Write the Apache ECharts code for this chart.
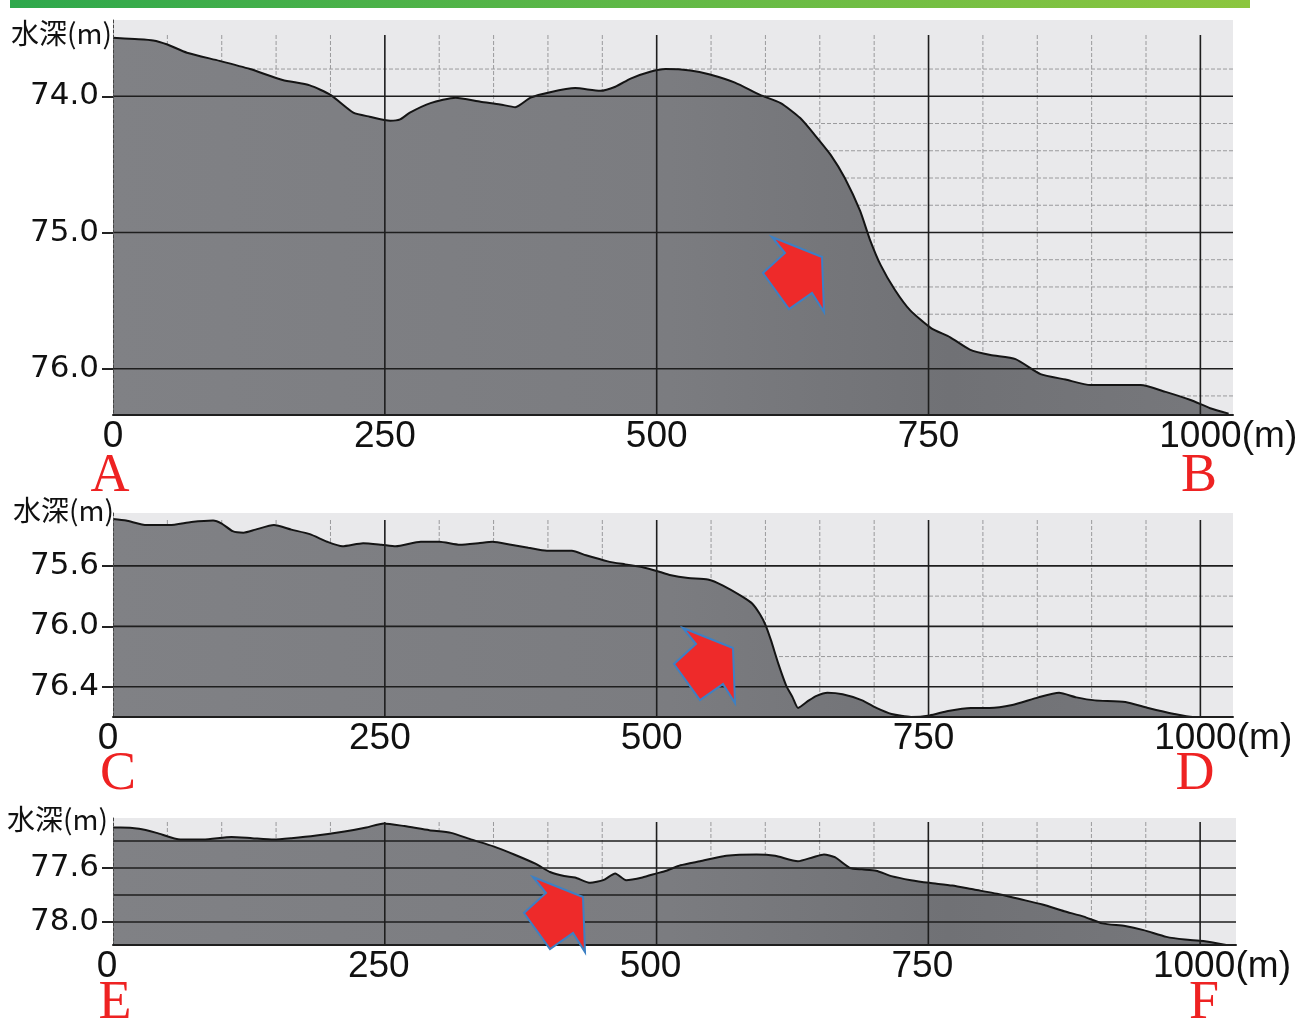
<!DOCTYPE html>
<html>
<head>
<meta charset="utf-8">
<script src="https://cdn.jsdelivr.net/npm/echarts@6/dist/echarts.min.js"></script>
<style>
html,body{margin:0;padding:0;background:#fff;}
#c{width:1302px;height:1019px;}
</style>
</head>
<body>
<div id="c"></div>
<script>
// ---------- data (distance in m, depth in m) ----------
const distAB  = [0,20,37,50,68,98,126,156,181,200,221,236,255,264,273,292,315,338,356,370,384,402,425,448,462,476,494,508,531,549,572,595,614,632,646,660,673,687,696,706,719,733,752,770,788,807,830,853,876,899,917,945,968,991,1009,1026];
const depthAB = [73.57,73.58,73.59,73.62,73.68,73.74,73.80,73.88,73.92,73.99,74.12,74.15,74.18,74.17,74.12,74.05,74.01,74.04,74.06,74.08,74.01,73.97,73.94,73.96,73.93,73.87,73.82,73.80,73.81,73.84,73.90,73.99,74.05,74.16,74.29,74.43,74.60,74.84,75.05,75.24,75.42,75.57,75.70,75.77,75.86,75.90,75.93,76.04,76.08,76.12,76.12,76.12,76.17,76.23,76.29,76.33];

const distCD  = [0,12,31,52,72,92,100,110,120,131,148,164,181,197,211,230,247,260,283,300,319,336,349,366,382,399,422,435,455,471,488,503,512,529,547,561,578,588,595,600,605,612,619,625,630,640,647,657,671,689,702,716,734,751,768,789,806,827,851,870,886,903,931,952,976,993,1007,1026];
const depthCD = [75.29,75.30,75.33,75.33,75.31,75.30,75.32,75.37,75.38,75.36,75.33,75.36,75.39,75.44,75.47,75.45,75.46,75.47,75.44,75.44,75.46,75.45,75.44,75.46,75.48,75.50,75.50,75.53,75.57,75.59,75.61,75.64,75.66,75.68,75.69,75.73,75.80,75.85,75.92,75.99,76.09,76.25,76.39,76.47,76.54,76.49,76.46,76.44,76.45,76.49,76.54,76.58,76.60,76.59,76.56,76.54,76.54,76.52,76.47,76.44,76.47,76.49,76.50,76.54,76.58,76.60,76.60,76.60];

const distEF  = [0,7,24,40,62,83,109,128,148,164,187,213,233,249,268,291,311,330,350,369,389,402,415,425,439,451,462,472,487,500,509,522,540,564,592,609,630,644,654,664,678,689,702,716,734,751,772,792,813,834,855,875,893,910,931,948,969,986,1003,1024];
const depthEF = [77.30,77.30,77.31,77.34,77.39,77.39,77.37,77.38,77.39,77.38,77.36,77.33,77.30,77.27,77.29,77.32,77.34,77.39,77.44,77.50,77.57,77.63,77.66,77.67,77.71,77.69,77.64,77.69,77.67,77.64,77.62,77.58,77.55,77.51,77.50,77.51,77.55,77.52,77.50,77.52,77.60,77.61,77.62,77.66,77.69,77.71,77.73,77.76,77.79,77.83,77.87,77.92,77.96,78.01,78.03,78.06,78.11,78.13,78.14,78.17];

// ---------- axes / ticks ----------
const xLabelValues = [0,250,500,750,1000];
const xMajor = [250,500,750,1000];
const xMinor = [50,100,150,200,300,350,400,450,550,600,650,700,800,850,900,950];

const yLabelsAB = [74.0,75.0,76.0];
const yMajorAB  = [74.0,75.0,76.0];
const yMinorAB  = [73.8,74.2,74.4,74.6,74.8,75.2,75.4,75.6,75.8,76.2];
const yLabelsCD = [75.6,76.0,76.4];
const yMajorCD  = [75.6,76.0,76.4];
const yMinorCD  = [75.8,76.2];
const yLabelsEF = [77.6,78.0];
const yMajorEF  = [77.4,77.6,77.8,78.0];
const yMinorEF  = [];

const yRange = [[73.44,76.34],[75.25,76.6],[77.23,78.17]];
const xMaxs  = [1030,1030,1033];

const letters = [['A','B'],['C','D'],['E','F']];
const yName = '水深(m)';

// ---------- layout ----------
const grids = [
  {left:113, top:20,  width:1120, height:395, vInset:15, shift:0},
  {left:113, top:513, width:1120, height:204, vInset:7,  shift:5},
  {left:113, top:818, width:1123, height:127, vInset:4,  shift:6}
];

const panels = [
  {dist:distAB, depth:depthAB, yl:yLabelsAB, ymaj:yMajorAB, ymin:yMinorAB},
  {dist:distCD, depth:depthCD, yl:yLabelsCD, ymaj:yMajorCD, ymin:yMinorCD},
  {dist:distEF, depth:depthEF, yl:yLabelsEF, ymaj:yMajorEF, ymin:yMinorEF}
];

const majorStyle = {stroke:'#1e1e1e', lineWidth:1.6};
const minorStyle = {stroke:'#9a9a9c', lineWidth:1, lineDash:[4,2]};

function gridLines(i, values, dir, style, z, inset){
  const yr = yRange[i];
  const ymid = (yr[0]+yr[1])/2;
  return {
    type:'custom', xAxisIndex:i, yAxisIndex:i, z:z, silent:true,
    data: values.map(v => dir==='v' ? [v, ymid] : [xMaxs[i]/2, v]),
    renderItem: function(params, api){
      const cs = params.coordSys;
      const p = api.coord([api.value(0), api.value(1)]);
      if (dir==='v') {
        return {type:'line', shape:{x1:p[0], y1:cs.y+inset, x2:p[0], y2:cs.y+cs.height}, style:style};
      }
      return {type:'line', shape:{x1:cs.x, y1:p[1], x2:cs.x+cs.width, y2:p[1]}, style:style};
    }
  };
}

const option = {
  backgroundColor:'#ffffff',
  animation:false,
  grid: grids.map(g => ({left:g.left, top:g.top, width:g.width, height:g.height, show:true,
        backgroundColor:'#e9e9eb', borderWidth:0, containLabel:false, outerBoundsMode:'none'})),
  xAxis: grids.map((g,i) => ({
    type:'value', gridIndex:i, min:0, max:xMaxs[i], z:4,
    axisLine:{show:true, lineStyle:{color:'#1e1e1e', width:2}},
    axisTick:{show:false},
    splitLine:{show:false},
    axisLabel:{
      customValues:xLabelValues, margin:3, color:'#111',
      fontFamily:'Liberation Sans', fontSize:37,
      formatter: v => v===1000 ? '{pad|}{t|1000}{m|(m)}' : '{n|'+v+'}',
      rich:{
        n:{fontFamily:'Liberation Sans', fontSize:37, color:'#111', padding:[0,2*g.shift,0,0]},
        t:{fontFamily:'Liberation Sans', fontSize:37, color:'#111'},
        pad:{width:56-2*g.shift},
        m:{fontFamily:'Liberation Sans', fontSize:37, color:'#111', width:56, align:'left'}
      }
    }
  })),
  yAxis: grids.map((g,i) => ({
    type:'value', gridIndex:i, inverse:true, min:yRange[i][0], max:yRange[i][1], z:4,
    axisLine:{show:true, lineStyle:{color:'#444', width:1, type:[3,2]}},
    axisTick:{show:true, customValues:panels[i].yl, length:11, lineStyle:{color:'#222', width:2}},
    splitLine:{show:false},
    axisLabel:{customValues:panels[i].yl, margin:14, color:'#111',
      fontFamily:'DejaVu Sans', fontSize:31, formatter: v => v.toFixed(1)}
  })),
  series: []
};

panels.forEach((p,i) => {
  option.series.push(gridLines(i, xMinor, 'v', minorStyle, 1, grids[i].vInset));
  option.series.push(gridLines(i, p.ymin, 'h', minorStyle, 1, 0));
  option.series.push({
    type:'line', xAxisIndex:i, yAxisIndex:i, z:2, smooth:0.2, symbol:'none', silent:true,
    data: p.dist.map((d,k) => [d, p.depth[k]]),
    lineStyle:{color:'#141414', width:2},
    areaStyle:{origin:'end', opacity:1,
      color:{type:'linear', x:0, y:0, x2:1, y2:0, colorStops:[
        {offset:0, color:'#808185'},{offset:0.5, color:'#7b7c80'},{offset:0.75, color:'#707175'},{offset:1, color:'#77787c'}]}}
  });
  option.series.push(gridLines(i, xMajor, 'v', majorStyle, 3, grids[i].vInset));
  option.series.push(gridLines(i, p.ymaj, 'h', majorStyle, 3, 0));
});

// ---------- annotations ----------
const arrowTips = [[822,257],[733,648],[583,897]];
const arrowShape = [[-50,-20],[0,0],[2,55],[-10,36],[-33,52],[-59,16],[-37,-4]];
const letterPos = [[[110,504],[1199,504]],[[118,802],[1195,802]],[[115,1031],[1204,1031]]];
const yNamePos = [[11,19],[13,496],[7,805]];

const graphics = [
  {type:'rect', left:10, top:0, shape:{width:1240, height:8}, z:10,
   style:{fill:{type:'linear', x:0, y:0, x2:1, y2:0, colorStops:[
     {offset:0, color:'#2ea84c'},{offset:0.5, color:'#5fb847'},{offset:1, color:'#8cc63f'}]}}}
];
arrowTips.forEach(t => {
  graphics.push({type:'polygon', z:20, silent:true,
    shape:{points: arrowShape.map(o => [t[0]+o[0], t[1]+o[1]])},
    style:{fill:'#ee2a2a', stroke:'#3d80c4', lineWidth:2, lineJoin:'miter'}});
});
letters.forEach((pair,i) => {
  pair.forEach((L,j) => {
    const pos = letterPos[i][j];
    graphics.push({type:'text', z:20, x:pos[0], y:pos[1], silent:true,
      style:{text:L, fill:'#ee2222', font:'54px "Liberation Serif"', textAlign:'center', textVerticalAlign:'bottom'}});
  });
});
yNamePos.forEach(p => {
  graphics.push({type:'text', z:20, x:p[0], y:p[1], silent:true,
    style:{text:yName, fill:'#111', font:'28px "Noto Sans CJK JP"', textAlign:'left', textVerticalAlign:'top'}});
});
option.graphic = graphics;

const chart = echarts.init(document.getElementById('c'), null, {renderer:'canvas', width:1302, height:1019});
chart.setOption(option);
</script>
</body>
</html>
